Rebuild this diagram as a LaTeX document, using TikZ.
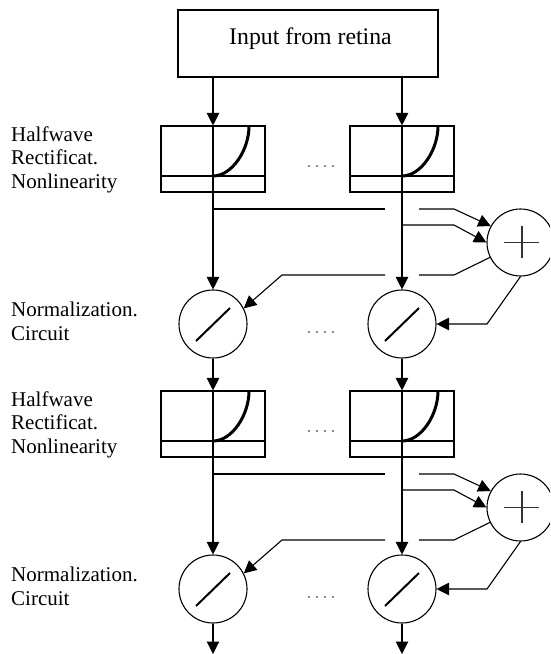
\documentclass[tikz,border=0pt]{standalone}
\usepackage{fontspec}
\setmainfont{Liberation Serif}
\usetikzlibrary{arrows.meta}
\tikzset{
  wire/.style={line width=1.1pt},
  arr/.style={wire,-{Triangle[length=12.5pt,width=12.5pt]}},
  rectbox/.style={draw,line width=1.1pt,minimum width=104pt,minimum height=66pt,inner sep=0pt},
  normcirc/.style={draw,circle,line width=1.1pt,minimum size=68pt,inner sep=0pt},
  sumcirc/.style={draw,circle,line width=1.1pt,minimum size=67pt,inner sep=0pt},
  lab/.style={anchor=base west,inner sep=0pt,font=\fontsize{21}{23.5}\selectfont},
  curvestroke/.style={line width=3pt},
  slashstroke/.style={line width=2pt},
  plusstroke/.style={line width=1.3pt,black!80},
  dotmark/.style={fill=black!45}
}
\begin{document}
\begin{tikzpicture}[x=1pt,y=-1pt]
\useasboundingbox (0,0) rectangle (550,654);
\clip (0,0) rectangle (550,654);

% input box
\node[draw,wire,minimum width=260pt,minimum height=67pt,inner sep=0pt] (retina) at (308,43.5) {};
\node[anchor=base,inner sep=0pt,font=\fontsize{23.8}{26}\selectfont] (retinatext) at (310.5,44) {Input from retina};

\foreach \k/\d in {1/0,2/265} {
  % stage labels
  \node[lab] (half\k) at (11,141+\d) {Halfwave};
  \node[lab] (rect\k) at (11,164.5+\d) {Rectificat.};
  \node[lab] (nonl\k) at (11,188+\d) {Nonlinearity};
  \node[lab] (norm\k) at (11,316.5+\d) {Normalization.};
  \node[lab] (circ\k) at (11,340.5+\d) {Circuit};

  % rectifier boxes with their transfer curve
  \node[rectbox] (rl\k) at (213,159+\d) {};
  \node[rectbox] (rr\k) at (402,159+\d) {};
  \draw[wire] (161,176+\d) -- (265,176+\d);
  \draw[wire] (350,176+\d) -- (454,176+\d);
  \draw[curvestroke] (213,176+\d) .. controls (232,176+\d) and (249,150+\d) .. (249,126+\d);
  \draw[curvestroke] (402,176+\d) .. controls (421,176+\d) and (438,150+\d) .. (438,126+\d);

  % normalization circles
  \node[normcirc] (nl\k) at (213,324+\d) {};
  \node[normcirc] (nr\k) at (402,324+\d) {};
  \draw[slashstroke] ([shift={(-17,17)}]nl\k.center) -- ([shift={(17,-16)}]nl\k.center);
  \draw[slashstroke] ([shift={(-17,17)}]nr\k.center) -- ([shift={(17,-16)}]nr\k.center);

  % summation node
  \node[sumcirc] (sum\k) at (520.5,242.5+\d) {};
  \draw[plusstroke] ([shift={(-16.5,0)}]sum\k.center) -- ([shift={(18.5,0)}]sum\k.center);
  \draw[plusstroke] ([shift={(1.5,-16.5)}]sum\k.center) -- ([shift={(1.5,15.5)}]sum\k.center);

  % columns
  \draw[arr] (rl\k.north) -- (nl\k.north);
  \draw[arr] (rr\k.north) -- (nr\k.north);

  % pooling into the summation node
  \coordinate (tapL\k) at (213,209+\d);
  \coordinate (gapLa\k) at (385,209+\d);
  \coordinate (gapLb\k) at (419,209+\d);
  \coordinate (bendA\k) at (454,209+\d);
  \draw[wire] (tapL\k) -- (gapLa\k);
  \draw[arr] (gapLb\k) -- (bendA\k) -- (sum\k.151);
  \coordinate (tapR\k) at (402,225+\d);
  \coordinate (bendB\k) at (454,225+\d);
  \draw[arr] (tapR\k) -- (bendB\k) -- (sum\k.west);

  % feedback to the normalization circles
  \coordinate (bendC\k) at (454,275+\d);
  \coordinate (gapRb\k) at (419,275+\d);
  \coordinate (gapRa\k) at (385,275+\d);
  \coordinate (bendD\k) at (282,275+\d);
  \draw[wire] (sum\k.206) -- (bendC\k) -- (gapRb\k);
  \draw[arr] (gapRa\k) -- (bendD\k) -- (nl\k.27);
  \coordinate (bendE\k) at (487,324+\d);
  \draw[arr] (sum\k.south) -- (bendE\k) -- (nr\k.east);

  % ellipsis dots between the columns
  \foreach \x in {309,317,325,333} {
    \fill[dotmark] (\x-0.8,165.2+\d) rectangle (\x+0.8,166.8+\d);
    \fill[dotmark] (\x-0.8,331.2+\d) rectangle (\x+0.8,332.8+\d);
  }
}

% links between stages
\draw[arr] (rl1.north |- retina.south) -- (rl1.north);
\draw[arr] (rr1.north |- retina.south) -- (rr1.north);
\draw[arr] (nl1.south) -- (rl2.north);
\draw[arr] (nr1.south) -- (rr2.north);
\coordinate (outL) at (213,654);
\coordinate (outR) at (402,654);
\draw[arr] (nl2.south) -- (outL);
\draw[arr] (nr2.south) -- (outR);
\end{tikzpicture}
\end{document}
